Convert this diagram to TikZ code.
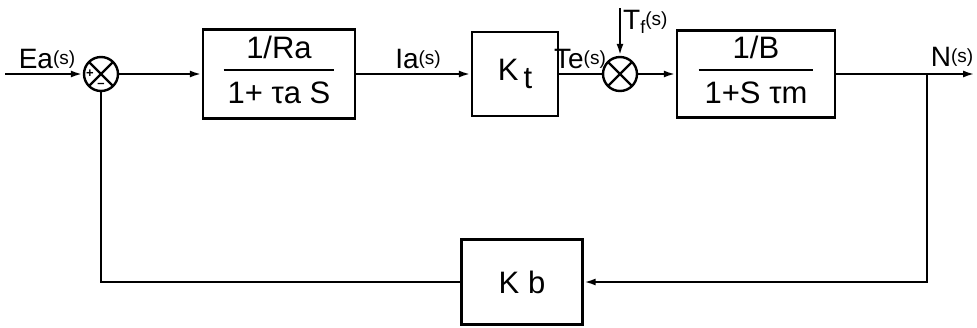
\documentclass[tikz,border=0pt]{standalone}
\usepackage{fontspec}
\setmainfont{Liberation Sans}
\usetikzlibrary{arrows.meta,calc}
\newcommand{\sig}[1]{{\fontsize{19}{20}\selectfont\raisebox{4pt}{#1}}}
\begin{document}
\begin{tikzpicture}[x=1pt,y=-1pt,line width=2.4pt,
  arr/.style={-{Latex[length=12pt,width=7pt]}},
  blk/.style={draw,rectangle,inner sep=0pt,font=\fontsize{31}{34}\selectfont},
  sumj/.style={draw,circle,minimum size=34pt,inner sep=0pt,
    path picture={\draw[line width=2.4pt]
      (path picture bounding box.south west) -- (path picture bounding box.north east)
      (path picture bounding box.north west) -- (path picture bounding box.south east);}},
  lbl/.style={inner sep=1pt,font=\fontsize{28}{30}\selectfont},
  sgn/.style={inner sep=0pt,font=\fontsize{13}{13}\selectfont\bfseries}]
\useasboundingbox (0,0) rectangle (977,327);

% forward path
\coordinate (in) at (5,74);
\node[sumj] (s1) at (101,74) {};
\node[blk,minimum width=152pt,minimum height=89pt] (b1) at (279,74)
  {\setlength{\arrayrulewidth}{2.4pt}\setlength{\tabcolsep}{4pt}\begin{tabular}{c}1/Ra\\[0pt]\hline\rule{0pt}{32pt}1+ τa S\end{tabular}};
\node[blk,minimum width=86pt,minimum height=84pt] (kt) at (515,74) {K\,\raisebox{-8pt}{t}};
\node[sumj] (s2) at (620,74) {};
\coordinate (tf) at (620,8);
\node[blk,minimum width=158pt,minimum height=87pt] (b3) at (756,74)
  {\setlength{\arrayrulewidth}{2.4pt}\setlength{\tabcolsep}{6pt}\begin{tabular}{c}1/B\\[0pt]\hline\rule{0pt}{32pt}1+S τm\end{tabular}};
\coordinate (br) at (927,74);
\coordinate (out) at (975,74);

% feedback path
\node[blk,minimum width=121pt,minimum height=85pt] (kb) at (522,282) {K b};
\coordinate (fr) at (927,282);

% signs of the first summing point
\node[sgn] (p1) at ($(s1)+(-11,0)$) {+};
\node[sgn] (m1) at ($(s1)+(0,11)$) {--};

% connectors
\draw[arr] (in) -- (s1);
\draw[arr] (s1) -- (b1);
\draw[arr] (b1) -- (kt);
\draw (kt) -- (s2);
\draw[arr] (tf) -- (s2);
\draw[arr] (s2) -- (b3);
\draw[arr] (b3) -- (out);
\draw[arr] (br) -- (fr) -- (kb);
\draw (kb) -| (s1);

% signal labels
\node[lbl,anchor=south] (ea) at (47,71) {Ea\sig{(s)}};
\node[lbl,anchor=south] (ia) at (418,71) {Ia\sig{(s)}};
\node[lbl,anchor=south] (te) at (580,71) {Te\sig{(s)}};
\node[lbl,anchor=west] (tq) at (621,22) {T\raisebox{-4pt}{\fontsize{18}{19}\selectfont f}\sig{(s)}};
\node[lbl,anchor=south] (ns) at (952,69) {N\sig{(s)}};
\end{tikzpicture}
\end{document}
